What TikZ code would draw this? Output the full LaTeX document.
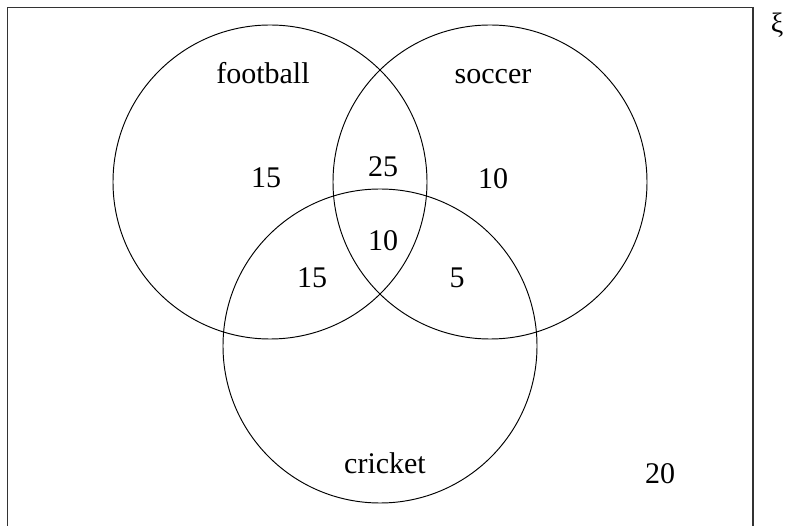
\documentclass[tikz,border=0pt]{standalone}
\usepackage{fontspec}
\setmainfont{Liberation Serif}
\begin{document}
\begin{tikzpicture}[x=1pt,y=-1pt,
  setc/.style={draw, line width=0.95pt},
  lbl/.style={anchor=base, inner sep=0pt, font=\fontsize{30}{32}\selectfont}]
\useasboundingbox (0,0) rectangle (785,526);
\draw[line width=1.2pt, black!80] (7.5,526) -- (7.5,7.5) -- (753,7.5) -- (753,526);
\draw[setc] (270,182) circle (157);
\draw[setc] (490,182) circle (157);
\draw[setc] (380,346) circle (157);
\node[lbl] (football) at (263,84) {football};
\node[lbl] (soccer) at (493,84) {soccer};
\node[lbl] (cricket) at (385,474) {cricket};
\node[lbl] (fonly) at (266,188) {15};
\node[lbl] (fs) at (383,177) {25};
\node[lbl] (sonly) at (493,189) {10};
\node[lbl] (all) at (383,251) {10};
\node[lbl] (fc) at (312,288) {15};
\node[lbl] (sc) at (457,288) {5};
\node[lbl] (out) at (660,484) {20};
\node[anchor=base, inner sep=0pt, font=\fontsize{28}{30}\selectfont] (xi) at (777,33) {ξ};
\end{tikzpicture}
\end{document}
